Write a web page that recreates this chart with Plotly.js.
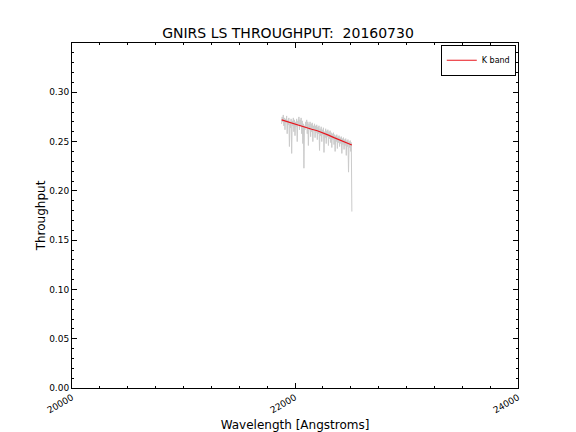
<!DOCTYPE html>
<html>
<head>
<meta charset="utf-8">
<script src="https://cdn.plot.ly/plotly-3.0.1.min.js"></script>
<style>body{margin:0;padding:0;background:#fff}#chart{width:576px;height:432px}</style>
</head>
<body>
<div id="chart"></div>
<script>
const specWave = [21880,21885,21890,21895,21900,21905,21910,21915,21920,21925,21930,21935,21940,21945,21950,21955,21960,21965,21970,21975,21980,21985,21990,21995,
22000,22005,22010,22015,22020,22025,22030,22035,22040,22045,22050,22055,22060,22065,22070,22075,22080,22085,22090,22095,
22100,22105,22110,22115,22120,22125,22130,22135,22140,22145,22150,22155,22160,22165,22170,22175,22180,22185,22190,22195,
22200,22205,22210,22215,22220,22225,22230,22235,22240,22245,22250,22255,22260,22265,22270,22275,22280,22285,22290,22295,
22300,22305,22310,22315,22320,22325,22330,22335,22340,22345,22350,22355,22360,22365,22370,22375,22380,22385,22390,22395,
22400,22405,22410,22415,22420,22425,22430,22435,22440,22445,22450,22455,22460,22465,22470,22475,22480,22485,22490,22495,22500,22505,22510];
const specThru = [0.268,0.275,0.270,0.277,0.266,0.274,0.262,0.273,0.269,0.276,0.258,0.272,0.267,0.274,0.245,0.270,0.264,0.273,0.238,0.271,0.266,0.274,0.260,0.272,
0.256,0.270,0.265,0.273,0.250,0.271,0.268,0.275,0.262,0.272,0.266,0.274,0.258,0.271,0.248,0.268,0.223,0.266,0.262,0.270,
0.265,0.272,0.258,0.270,0.246,0.268,0.262,0.270,0.255,0.268,0.260,0.269,0.250,0.266,0.262,0.268,0.254,0.266,0.259,0.267,
0.252,0.265,0.258,0.266,0.241,0.263,0.256,0.265,0.250,0.262,0.257,0.264,0.239,0.260,0.254,0.263,0.248,0.261,0.255,0.262,
0.246,0.260,0.253,0.261,0.249,0.259,0.244,0.258,0.252,0.259,0.247,0.257,0.240,0.256,0.250,0.257,0.243,0.255,0.249,0.256,
0.245,0.254,0.248,0.255,0.238,0.253,0.247,0.254,0.242,0.252,0.246,0.253,0.236,0.251,0.245,0.252,0.219,0.250,0.244,0.251,0.240,0.249,0.179];
const fitWave = [21880,21950,22000,22050,22100,22150,22200,22250,22300,22350,22400,22450,22510];
const fitThru = [0.272,0.2695,0.2675,0.2655,0.2640,0.2625,0.2610,0.2590,0.2565,0.2540,0.2515,0.2490,0.2465];
const xTicks = [20000,22000,24000];
const xTickText = ['20000','22000','24000'];
const yTicks = [0,0.05,0.10,0.15,0.20,0.25,0.30];
const yTickText = ['0.00','0.05','0.10','0.15','0.20','0.25','0.30'];

const traces = [
  {x: specWave, y: specThru, mode:'lines', line:{color:'#cbcbcb', width:1}, showlegend:false, hoverinfo:'skip'},
  {x: fitWave, y: fitThru, mode:'lines', line:{color:'#e8141c', width:1.2}, name:'K band'}
];
const axisCommon = {
  showgrid:false, zeroline:false, showline:true, linecolor:'#000', linewidth:1, mirror:'allticks',
  ticks:'inside', ticklen:5, tickcolor:'#000', tickwidth:1,
  tickfont:{size:9, color:'#000'}
};
const layout = {
  width:576, height:432,
  margin:{l:72, r:58, t:43, b:44},
  paper_bgcolor:'#fff', plot_bgcolor:'#fff',
  font:{family:'DejaVu Sans, sans-serif', color:'#000'},
  title:{text:'GNIRS LS THROUGHPUT:  20160730', font:{size:14}, x:0.5, xanchor:'center', y:1-33/432, yanchor:'middle'},
  xaxis: Object.assign({}, axisCommon, {
    range:[20000,24000], tickmode:'array', tickvals:xTicks, ticktext:xTickText, tickangle:-30,
    minor:{dtick:250, ticks:'inside', ticklen:2, tickcolor:'#000'},
    title:{text:'Wavelength [Angstroms]', font:{size:12}}
  }),
  yaxis: Object.assign({}, axisCommon, {
    range:[0,0.35], tickmode:'array', tickvals:yTicks, ticktext:yTickText, automargin:true,
    minor:{dtick:0.01, ticks:'inside', ticklen:2, tickcolor:'#000'},
    title:{text:'Throughput', font:{size:12}, standoff:0}
  }),
  legend:{x:0.995, xanchor:'right', y:0.995, yanchor:'top', bgcolor:'#fff', bordercolor:'#000', borderwidth:1, font:{size:8}, itemwidth:30}
};
Plotly.newPlot('chart', traces, layout, {displayModeBar:false, staticPlot:true});
</script>
</body>
</html>
